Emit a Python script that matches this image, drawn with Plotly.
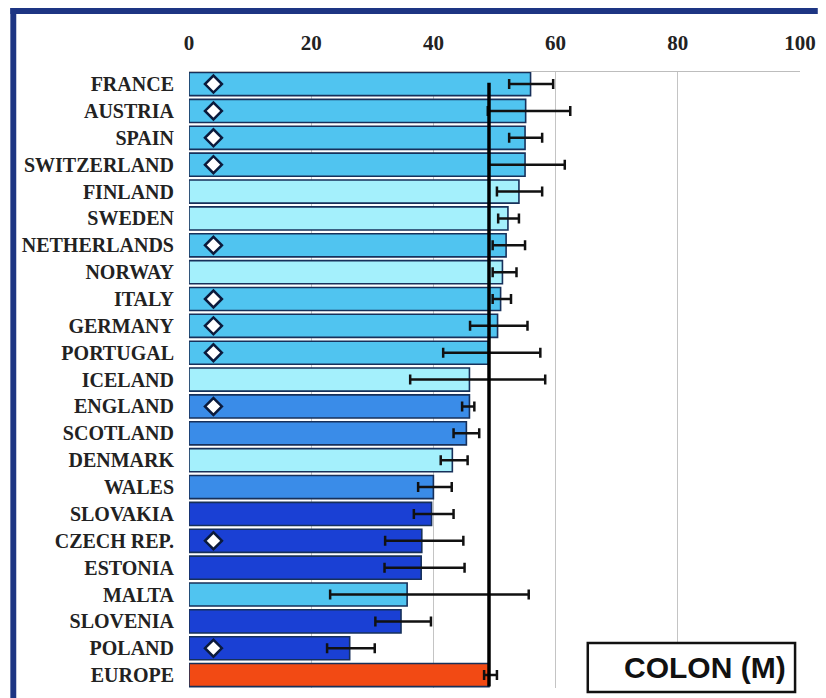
import plotly.graph_objects as go

countries = ["FRANCE", "AUSTRIA", "SPAIN", "SWITZERLAND", "FINLAND", "SWEDEN",
             "NETHERLANDS", "NORWAY", "ITALY", "GERMANY", "PORTUGAL", "ICELAND",
             "ENGLAND", "SCOTLAND", "DENMARK", "WALES", "SLOVAKIA", "CZECH REP.",
             "ESTONIA", "MALTA", "SLOVENIA", "POLAND", "EUROPE"]
survival = [55.9, 55.1, 55.0, 55.0, 54.0, 52.2, 51.9, 51.3, 51.0, 50.5, 49.0, 45.9,
            45.9, 45.4, 43.1, 40.0, 39.7, 38.1, 38.0, 35.7, 34.7, 26.3, 49.1]
ci_low = [52.4, 48.9, 52.4, 49.1, 50.4, 50.6, 49.7, 49.7, 49.7, 46.0, 41.6, 36.2,
          44.7, 43.3, 41.2, 37.5, 36.8, 32.1, 32.0, 23.1, 30.5, 22.6, 48.3]
ci_high = [59.6, 62.4, 57.8, 61.5, 57.8, 54.0, 55.0, 53.6, 52.7, 55.4, 57.5, 58.3,
           46.7, 47.5, 45.6, 43.0, 43.3, 44.9, 45.1, 55.6, 39.6, 30.4, 50.4]
groups = ["sky", "sky", "sky", "sky", "pale", "pale", "sky", "pale", "sky", "sky",
          "sky", "pale", "mid", "mid", "pale", "mid", "dark", "dark", "dark", "sky",
          "dark", "dark", "europe"]
flagged = ["FRANCE", "AUSTRIA", "SPAIN", "SWITZERLAND", "NETHERLANDS", "ITALY",
           "GERMANY", "PORTUGAL", "ENGLAND", "CZECH REP.", "POLAND"]
flag_value = 4
x_ticks = [0, 20, 40, 60, 80, 100]
legend_label = "COLON (M)"

palette = {"sky": "#50C4F0", "pale": "#A4F0FC", "mid": "#3A8CE8",
           "dark": "#1A40D4", "europe": "#F24A14"}

ypos = list(range(len(countries)))
err_plus = [h - v for h, v in zip(ci_high, survival)]
err_minus = [v - l for v, l in zip(survival, ci_low)]

fig = go.Figure()
fig.add_trace(go.Bar(
    x=survival, y=ypos, orientation="h",
    marker=dict(color=[palette[g] for g in groups],
                line=dict(color="#17305A", width=1.6)),
    error_x=dict(type="data", array=err_plus, arrayminus=err_minus,
                 color="#111111", thickness=2.5, width=5),
    width=0.86, showlegend=False, hoverinfo="x+y",
))

europe_val = survival[countries.index("EUROPE")]
fig.add_trace(go.Scatter(
    x=[europe_val, europe_val], y=[-0.05, 22.42], mode="lines",
    line=dict(color="#000000", width=3.5), showlegend=False, hoverinfo="skip"))

fy = [countries.index(c) for c in flagged]
fig.add_trace(go.Scatter(
    x=[flag_value] * len(fy), y=fy, mode="markers",
    marker=dict(symbol="diamond", size=13, color="white",
                line=dict(color="#0B1A3C", width=2.5)),
    showlegend=False, hoverinfo="skip"))

# the page body adds an 8px offset; figure coordinates = screen - 8
OFF = 8
W, H = 826 - OFF, 698 - OFF
L, T = 189 - OFF, 72 - OFF
R = W - (808 - OFF)
B = H - (688 - OFF)
pw, ph = W - L - R, H - T - B

def px_x(p):
    return (p - OFF - L) / pw

def px_y(p):
    return (H - B - (p - OFF)) / ph

navy = "#1D3583"
fig.add_shape(type="rect", xref="paper", yref="paper", layer="above",
              x0=px_x(OFF), x1=px_x(826), y0=px_y(OFF + 6), y1=px_y(OFF),
              fillcolor=navy, line=dict(width=0))
fig.add_shape(type="rect", xref="paper", yref="paper", layer="above",
              x0=px_x(OFF), x1=px_x(OFF + 6), y0=px_y(698), y1=px_y(OFF),
              fillcolor=navy, line=dict(width=0))
fig.add_shape(type="rect", xref="paper", yref="paper", layer="above",
              x0=px_x(593), x1=px_x(803), y0=px_y(692), y1=px_y(643),
              fillcolor="white", line=dict(color="#111111", width=2.5))
fig.add_annotation(xref="paper", yref="paper", x=px_x(796), y=px_y(667),
                   xanchor="right", yanchor="middle", showarrow=False,
                   text="<b>" + legend_label + "</b>",
                   font=dict(family="Liberation Sans, Arial", size=30, color="#111111"))

fig.update_layout(
    width=W, height=H,
    margin=dict(l=L, r=R, t=T, b=B),
    paper_bgcolor="white", plot_bgcolor="white",
    bargap=0.14,
    xaxis=dict(side="top", range=[0, 100], tickvals=x_ticks,
               ticktext=["<b>%d</b>" % v for v in x_ticks],
               showgrid=True, gridcolor="#C4C4C4", gridwidth=1,
               showline=True, linecolor="#BDBDBD", linewidth=1,
               zeroline=False, ticks="", ticklabelstandoff=13,
               tickfont=dict(family="Liberation Serif, Times New Roman", size=21, color="#222222")),
    yaxis=dict(range=[22.48, -0.45], tickvals=ypos,
               ticktext=["<b>%s</b>" % c for c in countries],
               showgrid=False, zeroline=False, ticks="", ticklabelstandoff=14,
               tickfont=dict(family="Liberation Serif, Times New Roman", size=20, color="#222222")),
)

fig.write_html("out.html")
